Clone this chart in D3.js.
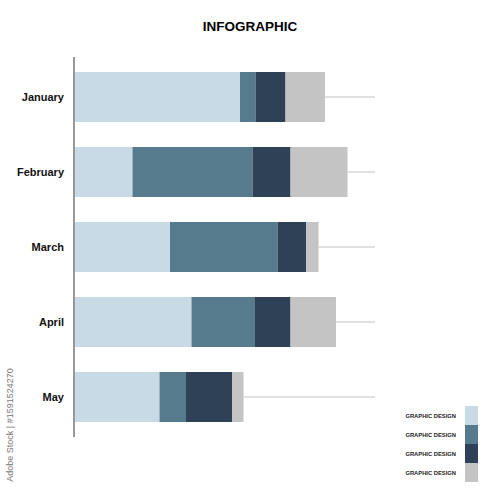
<!DOCTYPE html>
<html>
<head>
<meta charset="utf-8">
<script src="https://cdn.jsdelivr.net/npm/d3@7"></script>
<style>
  body { margin: 0; background: #fff; }
  text { font-family: "Liberation Sans", Arial, Helvetica, sans-serif; }
</style>
</head>
<body>
<div id="vis"></div>
<script>
const width = 500;
const height = 500;

// data
const months = ['January', 'February', 'March', 'April', 'May'];
const seriesNames = ['GRAPHIC DESIGN', 'GRAPHIC DESIGN', 'GRAPHIC DESIGN', 'GRAPHIC DESIGN'];
const light = [33, 11.5, 19, 23.3, 16.9];
const mid = [3.1, 24, 21.5, 12.7, 5.3];
const dark = [6, 7.6, 5.7, 7.1, 9.2];
const gray = [7.9, 11.4, 2.5, 9.1, 2.3];
const xMax = 60;

const colors = ['#c8dae6', '#557b8d', '#2e4157', '#c4c4c4'];

const table = months.map((m, i) => ({
  month: m, s0: light[i], s1: mid[i], s2: dark[i], s3: gray[i]
}));
const keys = ['s0', 's1', 's2', 's3'];
const stacked = d3.stack().keys(keys)(table);

const svg = d3.select('#vis').append('svg')
  .attr('width', width)
  .attr('height', height);

const x = d3.scaleLinear()
  .domain([0, xMax])
  .range([75, 375]);

const y = d3.scaleBand()
  .domain(months)
  .range([59.5, 434.5])
  .paddingInner(1 / 3)
  .paddingOuter(1 / 6);

// title
svg.append('text')
  .attr('x', 250)
  .attr('y', 31)
  .attr('text-anchor', 'middle')
  .attr('font-size', 13.5)
  .attr('font-weight', 'bold')
  .attr('fill', '#000')
  .text('INFOGRAPHIC');

// reference lines to the max
svg.append('g')
  .selectAll('line')
  .data(table)
  .join('line')
  .attr('x1', d => x(d.s0 + d.s1 + d.s2 + d.s3))
  .attr('x2', x(xMax))
  .attr('y1', d => y(d.month) + y.bandwidth() / 2)
  .attr('y2', d => y(d.month) + y.bandwidth() / 2)
  .attr('stroke', '#d6d6d6')
  .attr('stroke-width', 1.5);

// bars
svg.append('g')
  .selectAll('g')
  .data(stacked)
  .join('g')
  .attr('fill', (d, i) => colors[i])
  .selectAll('rect')
  .data(d => d)
  .join('rect')
  .attr('x', d => x(d[0]))
  .attr('width', d => x(d[1]) - x(d[0]))
  .attr('y', d => y(d.data.month))
  .attr('height', y.bandwidth());

// left axis line
svg.append('line')
  .attr('x1', 74)
  .attr('x2', 74)
  .attr('y1', 57)
  .attr('y2', 437)
  .attr('stroke', '#999')
  .attr('stroke-width', 2);

// month labels
const yAxis = svg.append('g')
  .attr('transform', 'translate(64,0)')
  .call(d3.axisLeft(y).tickSize(0).tickPadding(0));
yAxis.select('.domain').remove();
yAxis.selectAll('text')
  .attr('font-family', '"Liberation Sans", Arial, sans-serif')
  .attr('font-size', 11)
  .attr('font-weight', 'bold')
  .attr('fill', '#111');

// legend
const legend = svg.append('g');
seriesNames.forEach((name, i) => {
  legend.append('rect')
    .attr('x', 465)
    .attr('y', 406 + i * 19)
    .attr('width', 13)
    .attr('height', 19)
    .attr('fill', colors[i]);
  legend.append('text')
    .attr('x', 456)
    .attr('y', 415.5 + i * 19)
    .attr('dy', '0.35em')
    .attr('text-anchor', 'end')
    .attr('font-size', 5.8)
    .attr('font-weight', 'bold')
    .attr('fill', '#222')
    .text(name);
});

// stock id on the side
svg.append('text')
  .attr('transform', 'translate(13,425) rotate(-90)')
  .attr('text-anchor', 'middle')
  .attr('font-size', 9)
  .attr('fill', '#777')
  .text('Adobe Stock | #1591524270');
</script>
</body>
</html>
